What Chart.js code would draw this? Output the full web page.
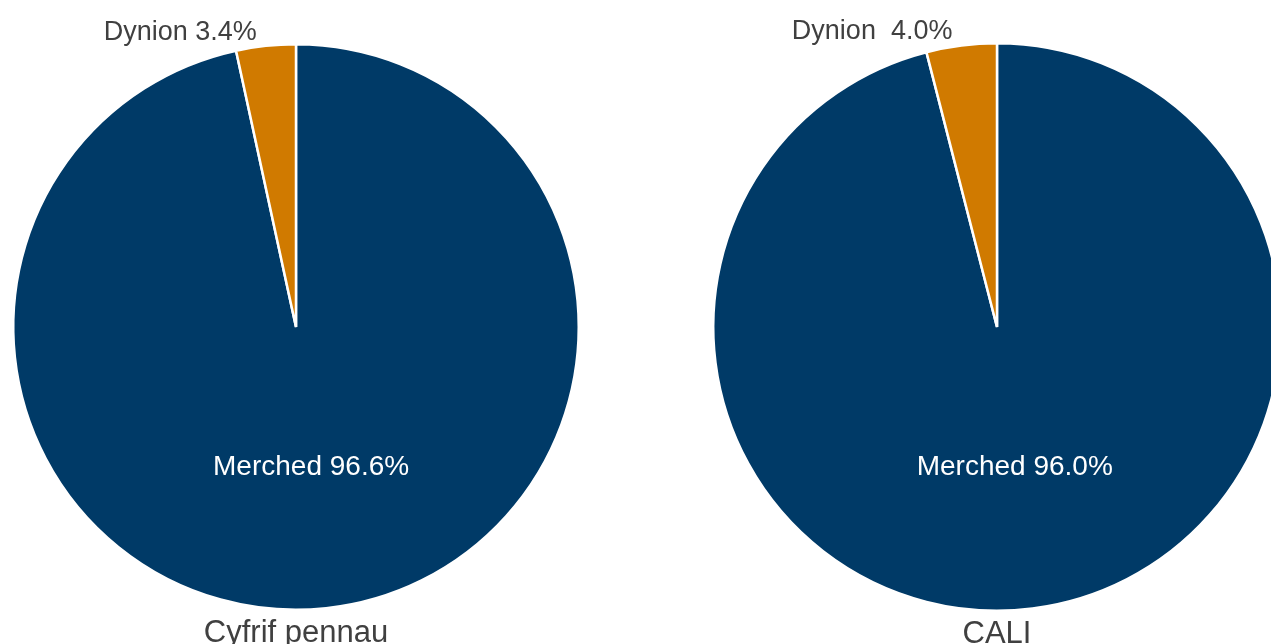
<!DOCTYPE html>
<html>
<head>
<meta charset="utf-8">
<script src="https://cdn.jsdelivr.net/npm/chart.js@4.4.1/dist/chart.umd.min.js"></script>
<style>
  html, body { margin: 0; padding: 0; background: #ffffff; overflow: hidden; width: 1271px; height: 644px; }
  .wrap { position: absolute; top: 0; height: 644px; }
  #w1 { left: 0; width: 592px; }
  #w2 { left: 699px; width: 596px; }
</style>
</head>
<body>
<div class="wrap" id="w1"><canvas id="c1"></canvas></div>
<div class="wrap" id="w2"><canvas id="c2"></canvas></div>
<script>
// ---- data ----
const categories = ['Merched', 'Dynion'];
const chartTitles = ['Cyfrif pennau', 'CALI'];
const headcountValues = [96.6, 3.4];
const caliValues = [96.0, 4.0];
const outsideLabelSeparators = [' ', '  '];

// ---- styling ----
const sliceColors = ['#003a67', '#d07a00'];
const textGrey = '#404040';
const fontFamily = '"Liberation Sans", Arial, sans-serif';

const pieLabelsPlugin = {
  id: 'pieLabels',
  afterDatasetsDraw(chart, args, opts) {
    const ctx = chart.ctx;
    const meta = chart.getDatasetMeta(0);
    const values = chart.data.datasets[0].data;
    const labels = chart.data.labels;
    ctx.save();
    meta.data.forEach((arc, i) => {
      const p = arc.getProps(['x', 'y', 'startAngle', 'endAngle', 'outerRadius'], true);
      const mid = (p.startAngle + p.endAngle) / 2;
      if (i === 0) {
        const text = labels[i] + ' ' + values[i].toFixed(1) + '%';
        const r = p.outerRadius * 0.5;
        ctx.font = '28px ' + fontFamily;
        ctx.fillStyle = '#ffffff';
        ctx.textAlign = 'center';
        ctx.textBaseline = 'middle';
        ctx.fillText(text, p.x + Math.cos(mid) * r, p.y + Math.sin(mid) * r);
      } else {
        const text = labels[i] + opts.sep + values[i].toFixed(1) + '%';
        const ex = p.x + Math.cos(mid) * p.outerRadius;
        ctx.font = '27px ' + fontFamily;
        ctx.fillStyle = textGrey;
        ctx.textAlign = 'right';
        ctx.textBaseline = 'middle';
        ctx.fillText(text, ex - 9, p.y - p.outerRadius - 12);
      }
    });
    const a = meta.data[0].getProps(['x', 'y', 'outerRadius'], true);
    ctx.font = '31px ' + fontFamily;
    ctx.fillStyle = textGrey;
    ctx.textAlign = 'center';
    ctx.textBaseline = 'alphabetic';
    ctx.fillText(opts.title, a.x, a.y + a.outerRadius + 32);
    ctx.restore();
  }
};

function makePie(canvasId, values, title, sep, padding) {
  return new Chart(document.getElementById(canvasId), {
    type: 'pie',
    data: {
      labels: categories,
      datasets: [{
        data: values,
        backgroundColor: sliceColors,
        borderColor: '#ffffff',
        borderWidth: 2.5
      }]
    },
    options: {
      responsive: true,
      maintainAspectRatio: false,
      animation: false,
      events: [],
      layout: { padding: padding },
      plugins: {
        legend: { display: false },
        tooltip: { enabled: false },
        title: { display: false },
        pieLabels: { title: title, sep: sep }
      }
    },
    plugins: [pieLabelsPlugin]
  });
}

makePie('c1', headcountValues, chartTitles[0], outsideLabelSeparators[0], { top: 43, bottom: 33, left: 12, right: 12 });
makePie('c2', caliValues, chartTitles[1], outsideLabelSeparators[1], { top: 42, bottom: 32, left: 13, right: 13 });
</script>
</body>
</html>
